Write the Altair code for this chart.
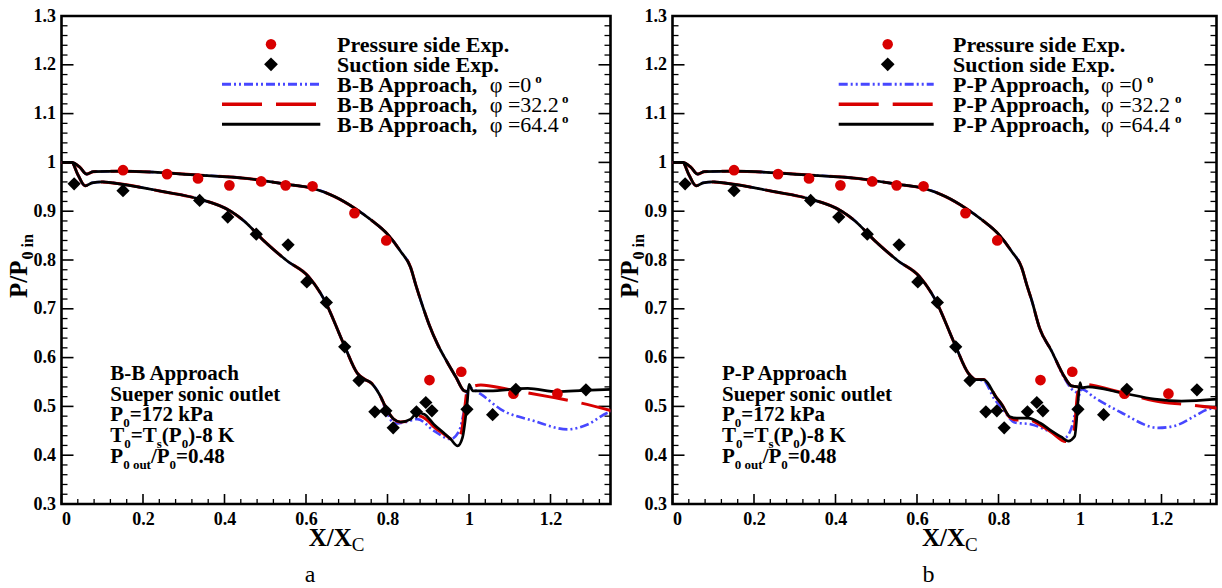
import altair as alt
import pandas as pd

FONT = "Liberation Serif"

# ---------------- experimental data (same in both panels) ----------------
ps_x = [0.151, 0.259, 0.335, 0.412, 0.490, 0.550, 0.616, 0.719, 0.797, 0.903, 0.981, 1.109, 1.217]
ps_y = [0.984, 0.976, 0.967, 0.953, 0.961, 0.953, 0.951, 0.896, 0.840, 0.554, 0.571, 0.526, 0.526]
ss_x = [0.031, 0.151, 0.339, 0.408, 0.478, 0.556, 0.602, 0.650, 0.695, 0.730, 0.769, 0.796,
        0.814, 0.871, 0.894, 0.909, 0.995, 1.058, 1.115, 1.287]
ss_y = [0.956, 0.942, 0.922, 0.888, 0.853, 0.831, 0.755, 0.713, 0.622, 0.553, 0.489, 0.491,
        0.456, 0.489, 0.508, 0.491, 0.494, 0.483, 0.535, 0.534]

# ---------------- common leading parts of the computed curves ----------------
pres_x = [0.0, 0.025, 0.045, 0.062, 0.078, 0.15, 0.335, 0.456, 0.554, 0.616, 0.67, 0.718,
          0.76, 0.8, 0.832, 0.857, 0.869, 0.882]
pres_y = [1.0, 1.0, 0.99, 0.976, 0.981, 0.982, 0.974, 0.967, 0.955, 0.947, 0.93, 0.907,
          0.882, 0.853, 0.818, 0.784, 0.750, 0.716]
suct_x = [0.0, 0.025, 0.04, 0.058, 0.075, 0.1, 0.151, 0.25, 0.333, 0.415, 0.448, 0.497,
          0.554, 0.605, 0.644, 0.693, 0.726, 0.745]
suct_y = [1.0, 1.0, 0.975, 0.952, 0.958, 0.96, 0.955, 0.94, 0.926, 0.9, 0.88, 0.839,
          0.798, 0.767, 0.72, 0.627, 0.568, 0.555]

# ---------------- B-B approach tails ----------------
bb_pres_tail_x = [0.902, 0.923, 0.947, 0.968, 0.988, 1.0]
bb_pres_tail_y = [0.668, 0.627, 0.59, 0.56, 0.532, 0.53]

bb64_x = [0.76, 0.78, 0.80, 0.815, 0.832, 0.857, 0.873, 0.89, 0.914, 0.939, 0.955, 0.972,
          0.984, 0.996, 1.0, 1.009, 1.05, 1.144, 1.217, 1.283, 1.35]
bb64_y = [0.548, 0.525, 0.491, 0.474, 0.468, 0.474, 0.487, 0.484, 0.463, 0.445, 0.433, 0.419,
          0.436, 0.511, 0.545, 0.532, 0.532, 0.537, 0.530, 0.533, 0.535]
bb32_x = [0.76, 0.78, 0.80, 0.815, 0.832, 0.857, 0.873, 0.9, 0.914, 0.939, 0.968, 0.982,
          0.99, 0.996, 1.029, 1.095, 1.209, 1.258, 1.35]
bb32_y = [0.548, 0.525, 0.491, 0.474, 0.468, 0.472, 0.481, 0.47, 0.458, 0.443, 0.429, 0.45,
          0.5, 0.535, 0.544, 0.535, 0.518, 0.51, 0.491]
bb0_x = [0.76, 0.78, 0.80, 0.816, 0.845, 0.873, 0.914, 0.955, 0.976, 0.988, 1.0, 1.029,
         1.078, 1.16, 1.242, 1.291, 1.34, 1.35]
bb0_y = [0.548, 0.525, 0.485, 0.465, 0.468, 0.474, 0.450, 0.433, 0.45, 0.491, 0.538, 0.525,
         0.494, 0.47, 0.453, 0.463, 0.487, 0.49]

# ---------------- P-P approach tails ----------------
pp_pres_tail_x = [0.901, 0.930, 0.963, 0.979, 0.996]
pp_pres_tail_y = [0.66, 0.614, 0.559, 0.542, 0.540]
pp0_pres_tail_x = [0.901, 0.93, 0.963, 0.979, 0.993]
pp0_pres_tail_y = [0.66, 0.614, 0.556, 0.536, 0.528]

pp64_x = [0.763, 0.795, 0.808, 0.828, 0.845, 0.873, 0.902, 0.930, 0.955, 0.971, 0.987, 0.996,
          1.0, 1.004, 1.02, 1.102, 1.183, 1.249, 1.35]
pp64_y = [0.555, 0.518, 0.504, 0.479, 0.476, 0.476, 0.466, 0.450, 0.437, 0.429, 0.439, 0.518,
          0.549, 0.538, 0.540, 0.528, 0.515, 0.511, 0.516]
pp32_x = [0.763, 0.795, 0.808, 0.828, 0.845, 0.873, 0.902, 0.93, 0.965, 0.985, 0.995, 1.012,
          1.085, 1.208, 1.249, 1.35]
pp32_y = [0.555, 0.518, 0.504, 0.477, 0.472, 0.473, 0.462, 0.447, 0.428, 0.45, 0.53, 0.545,
          0.532, 0.508, 0.505, 0.495]
pp0_x = [0.763, 0.79, 0.808, 0.840, 0.881, 0.922, 0.963, 0.979, 0.991, 1.004, 1.036, 1.102,
         1.192, 1.232, 1.281, 1.314, 1.35]
pp0_y = [0.553, 0.515, 0.497, 0.467, 0.463, 0.450, 0.436, 0.456, 0.497, 0.535, 0.518, 0.487,
         0.456, 0.46, 0.48, 0.494, 0.498]

# ---------------- axis tick values ----------------
x_major = [0.0, 0.2, 0.4, 0.6, 0.8, 1.0, 1.2]
x_minor = [0.04, 0.08, 0.12, 0.16, 0.24, 0.28, 0.32, 0.36, 0.44, 0.48, 0.52, 0.56, 0.64, 0.68,
           0.72, 0.76, 0.84, 0.88, 0.92, 0.96, 1.04, 1.08, 1.12, 1.16, 1.24, 1.28, 1.32]
y_major = [0.3, 0.4, 0.5, 0.6, 0.7, 0.8, 0.9, 1.0, 1.1, 1.2, 1.3]
y_minor = [0.32, 0.34, 0.36, 0.38, 0.42, 0.44, 0.46, 0.48, 0.52, 0.54, 0.56, 0.58, 0.62, 0.64,
           0.66, 0.68, 0.72, 0.74, 0.76, 0.78, 0.82, 0.84, 0.86, 0.88, 0.92, 0.94, 0.96, 0.98,
           1.02, 1.04, 1.06, 1.08, 1.12, 1.14, 1.16, 1.18, 1.22, 1.24, 1.26, 1.28]

RED = "#d80000"
BLUE = "#4747ff"
H = 488
K = 407.5  # pixels per unit of X/Xc

ONE = pd.DataFrame({"k": [0]})

BW = {'P': .611, 'T': .667, '0': .5, '1': .5, '2': .5, '4': .5, '7': .5, '8': .5, '=': .570,
      ' ': .25, 'k': .556, 'a': .5, '(': .333, ')': .333, '-': .333, 'K': .778, '/': .278,
      '.': .25, 's': .389, 'o': .5, 'u': .556, 't': .333, 'X': .722, 'i': .278, 'n': .556}


def width(s, size):
    return sum(BW.get(c, 0.5) for c in s) * size


def txt(s, x, y, size, bold=True, angle=None, align="left", baseline="alphabetic"):
    kw = dict(text=s, font=FONT, fontSize=size, fontWeight="bold" if bold else "normal",
              color="black", align=align, baseline=baseline)
    if angle is not None:
        kw["angle"] = angle
    return alt.Chart(ONE).mark_text(**kw).encode(x=alt.value(x), y=alt.value(y))


def seq(parts, x0, y0):
    out = []
    x = x0
    for s, size, dy in parts:
        out.append(txt(s, x, y0 + dy, size))
        x += width(s, size)
    return out


def curve_df(x, y, side):
    return pd.DataFrame({"x": x, "y": y, "side": side})


def panel(name, W, curves, leg, lab, xt):
    xmax = W / K
    X = alt.X("x:Q", scale=alt.Scale(domain=[0, xmax], nice=False, zero=False),
              axis=alt.Axis(values=x_major, format="~g", ticks=False, domain=False, grid=False,
                            title=None, labelFont=FONT, labelFontSize=18, labelFontWeight="bold",
                            labelColor="black", labelPadding=6))
    Y = alt.Y("y:Q", scale=alt.Scale(domain=[0.3, 1.3], nice=False, zero=False),
              axis=alt.Axis(values=y_major, format="~g", ticks=False, domain=False, grid=False,
                            title=None, labelFont=FONT, labelFontSize=18, labelFontWeight="bold",
                            labelColor="black", labelPadding=6))
    layers = []
    # inward ticks
    layers.append(alt.Chart(pd.DataFrame({"x": x_major})).mark_rule(color="black", strokeWidth=1.6)
                  .encode(x=X, y=alt.value(H), y2=alt.value(H - 10)))
    layers.append(alt.Chart(pd.DataFrame({"x": x_minor})).mark_rule(color="black", strokeWidth=1.3)
                  .encode(x=X, y=alt.value(H), y2=alt.value(H - 5)))
    for x0, x1, vals, sw in [(0, 12, y_major, 1.6), (0, 6, y_minor, 1.3),
                             (W, W - 12, y_major, 1.6), (W, W - 6, y_minor, 1.3)]:
        layers.append(alt.Chart(pd.DataFrame({"y": vals})).mark_rule(color="black", strokeWidth=sw)
                      .encode(y=Y, x=alt.value(x0), x2=alt.value(x1)))
    # curves
    styles = [(BLUE, [9, 3, 2, 3, 2, 3], 2.6), (RED, [40, 14], 3.0), ("black", None, 2.7)]
    for df, (col, dash, sw) in zip(curves, styles):
        kw = dict(color=col, strokeWidth=sw, interpolate="monotone", clip=True)
        if dash:
            kw["strokeDash"] = dash
        layers.append(alt.Chart(df).mark_line(**kw).encode(x=X, y=Y, detail="side:N",
                                                          order="x:Q"))
    # experimental points
    layers.append(alt.Chart(pd.DataFrame({"x": ps_x, "y": ps_y}))
                  .mark_point(shape="circle", filled=True, color=RED, size=115, opacity=1)
                  .encode(x=X, y=Y))
    layers.append(alt.Chart(pd.DataFrame({"x": ss_x, "y": ss_y}))
                  .mark_point(shape="diamond", filled=True, color="black", size=175, opacity=1)
                  .encode(x=X, y=Y))
    # legend
    sx, l0, l1, tx, phx, o1, o2 = leg
    layers.append(alt.Chart(ONE).mark_point(shape="circle", filled=True, color=RED, size=110,
                                            opacity=1).encode(x=alt.value(sx), y=alt.value(28.3)))
    layers.append(alt.Chart(ONE).mark_point(shape="diamond", filled=True, color="black", size=190,
                                            opacity=1).encode(x=alt.value(sx), y=alt.value(48.3)))
    for yy, (col, dash, sw) in zip([68.3, 88.3, 108.3], styles):
        kw = dict(color=col, strokeWidth=sw + 0.4)
        if dash:
            kw["strokeDash"] = dash
        layers.append(alt.Chart(ONE).mark_rule(**kw).encode(
            x=alt.value(l0), x2=alt.value(l1), y=alt.value(yy), y2=alt.value(yy)))
    layers.append(txt("Pressure side Exp.", tx, 35.7, 22))
    layers.append(txt("Suction side Exp.", tx, 55.7, 22))
    for base, phi, ox in [(75.7, "\u03c6 =0", o1), (95.7, "\u03c6 =32.2", o2),
                          (115.7, "\u03c6 =64.4", o2)]:
        layers.append(txt(f"{name} Approach,", tx, base, 22))
        layers.append(txt(phi, phx, base, 22, bold=False))
        layers.append(txt("o", ox, base - 9, 13))
    # annotation block
    ax0 = lab[0]
    layers.append(txt(f"{name} Approach", ax0, 364, 21))
    layers.append(txt("Sueper sonic outlet", ax0, 385, 21))
    layers += seq([("P", 21, 0), ("0", 13, 6), ("=172 kPa", 21, 0)], ax0, 404.5)
    layers += seq([("T", 21, 0), ("0", 13, 6), ("=T", 21, 0), ("s", 13, 6), ("(P", 21, 0),
                   ("0", 13, 6), (")-8 K", 21, 0)], ax0, 426)
    layers += seq([("P", 21, 0), ("0 out", 13, 6), ("/P", 21, 0), ("0", 13, 6),
                   ("=0.48", 21, 0)], ax0, 447)
    # axis titles
    layers.append(txt("X/X", xt, 530, 25))
    layers.append(txt("C", xt + width("X/X", 25), 535, 19, bold=False))
    layers.append(txt("P/P", -34.5, 282, 25, angle=270))
    layers.append(txt("0 in", -28.5, 282 - width("P/P", 25) - 1, 16, angle=270))
    # panel letter
    layers.append(txt(lab[1], lab[2], 566, 24, bold=False, align="center"))
    return alt.layer(*layers).properties(width=W, height=H)


def build(pres_tail, pres0_tail, t0, t32, t64):
    out = []
    for side_tail, sx_tail in [(pres0_tail, t0), (pres_tail, t32), (pres_tail, t64)]:
        px = pres_x + side_tail[0]
        py = pres_y + side_tail[1]
        cut = sx_tail[0][0]
        sx = [v for v in suct_x if v < cut] + sx_tail[0]
        sy = [suct_y[i] for i, v in enumerate(suct_x) if v < cut] + sx_tail[1]
        out.append(pd.concat([curve_df(px, py, "p"), curve_df(sx, sy, "s")]))
    return out


curves_a = build((bb_pres_tail_x, bb_pres_tail_y), (bb_pres_tail_x, bb_pres_tail_y),
                 (bb0_x, bb0_y), (bb32_x, bb32_y), (bb64_x, bb64_y))
curves_b = build((pp_pres_tail_x, pp_pres_tail_y), (pp0_pres_tail_x, pp0_pres_tail_y),
                 (pp0_x, pp0_y), (pp32_x, pp32_y), (pp64_x, pp64_y))

pa = panel("B-B", 549, curves_a, (209.5, 160.5, 258.8, 275.5, 428.2, 473.8, 500.5),
           (48.8, "a", 248.5), 247.2)
pb = panel("P-P", 544, curves_b, (215.2, 166.2, 261.2, 280.5, 428.5, 474.5, 502.5),
           (49.5, "b", 256.0), 249.5)

chart = alt.hconcat(pa, pb, spacing=62, bounds="flush").properties(
    padding={"left": 5.5, "top": 5, "right": 0, "bottom": 0}
).configure_view(stroke="black", strokeWidth=2.6)

chart.save("out.html", embed_options={"renderer": "svg", "actions": False})
